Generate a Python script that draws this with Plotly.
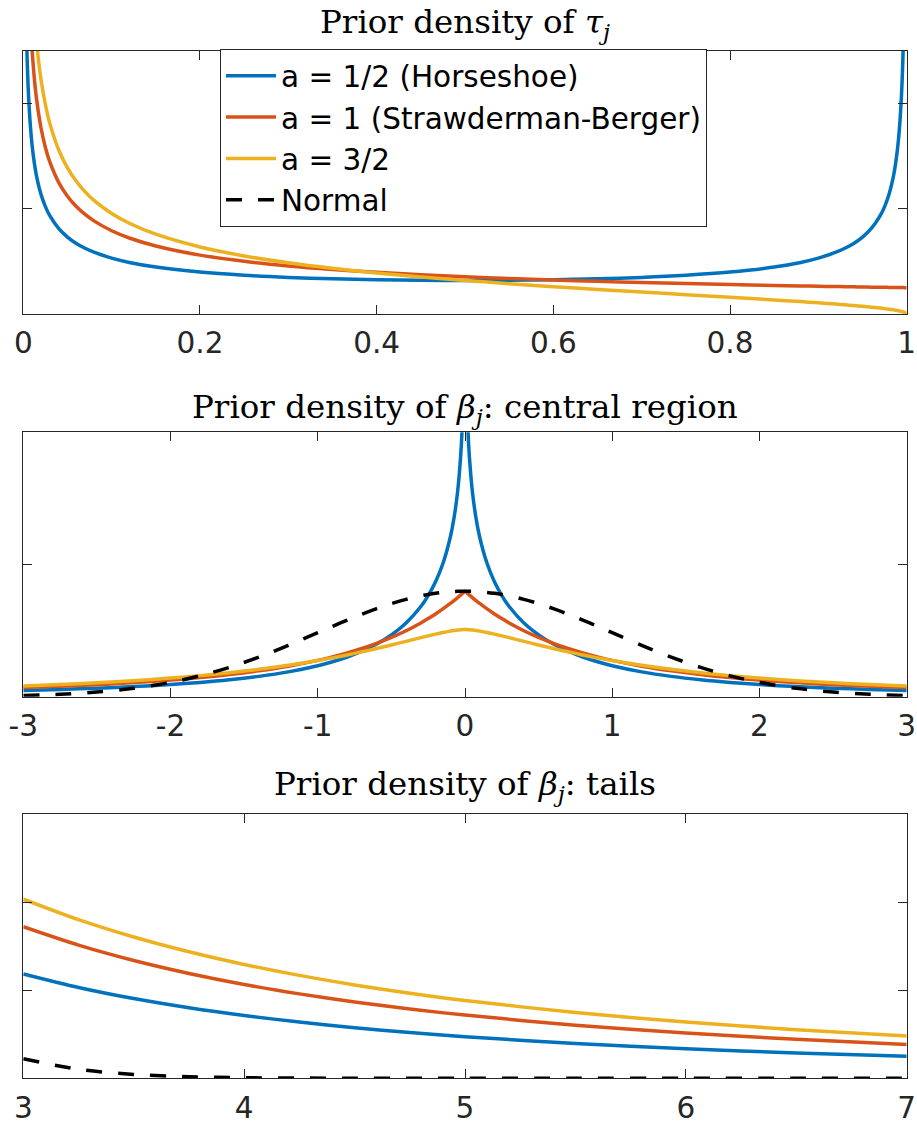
import plotly.graph_objects as go

# ---------------- data ----------------
# Panel 1: prior density of tau_j on [0, 1]
tau_x = [0.003, 0.004, 0.005, 0.006, 0.008, 0.01, 0.0125, 0.015, 0.02, 0.025, 0.03,
         0.04, 0.05, 0.06, 0.07, 0.08, 0.1, 0.12, 0.15, 0.2, 0.25, 0.3, 0.35, 0.4,
         0.45, 0.5, 0.55, 0.6, 0.65, 0.7, 0.75, 0.8, 0.85, 0.88, 0.9, 0.92, 0.93,
         0.94, 0.95, 0.96, 0.97, 0.975, 0.98, 0.985, 0.9875, 0.99, 0.992, 0.994,
         0.995, 0.996, 0.997, 1.0]
tau_horseshoe = [5.820, 5.043, 4.513, 4.122, 3.573, 3.199, 2.865, 2.619, 2.274, 2.039, 1.866,
                 1.624, 1.4605, 1.3403, 1.2476, 1.1733, 1.0610, 0.9795, 0.8915, 0.7958, 0.7351,
                 0.6946, 0.6674, 0.6497, 0.6398, 0.6366, 0.6398, 0.6497, 0.6674, 0.6946, 0.7351,
                 0.7958, 0.8915, 0.9795, 1.0610, 1.1733, 1.2476, 1.3403, 1.4605, 1.624, 1.866,
                 2.039, 2.274, 2.619, 2.865, 3.199, 3.573, 4.122, 4.513, 5.043, 5.820, None]
tau_sb = [9.129, 7.906, 7.071, 6.455, 5.590, 5.0, 4.472, 4.082, 3.536, 3.162, 2.887,
          2.5, 2.236, 2.041, 1.890, 1.768, 1.581, 1.443, 1.291, 1.118, 1.0, 0.9129,
          0.8452, 0.7906, 0.7454, 0.7071, 0.6742, 0.6455, 0.6202, 0.5976, 0.5774, 0.5590,
          0.5423, 0.5330, 0.5270, 0.5213, 0.5185, 0.5157, 0.5130, 0.5103, 0.5077, 0.5064,
          0.5051, 0.5038, 0.5031, 0.5025, 0.5020, 0.5015, 0.5013, 0.5010, 0.5008, 0.5]
tau_a32 = [11.606, 10.046, 8.981, 8.194, 7.089, 6.334, 5.658, 5.159, 4.456, 3.976, 3.620,
           3.119, 2.775, 2.520, 2.320, 2.159, 1.910, 1.724, 1.5155, 1.273, 1.1027, 0.9725,
           0.8676, 0.7797, 0.7038, 0.6366, 0.5758, 0.5198, 0.4672, 0.4168, 0.3676, 0.3183,
           0.2674, 0.2351, 0.2122, 0.1877, 0.1747, 0.1608, 0.1461, 0.1299, 0.1120, 0.1019,
           0.0909, 0.0786, 0.0716, 0.0640, 0.0572, 0.0495, 0.0451, 0.0403, 0.0349, 0.0]

# Panel 2: prior density of beta_j, central region (values for beta >= 0; curve is symmetric)
beta_pos = [0, 0.01, 0.02, 0.03, 0.05, 0.075, 0.1, 0.15, 0.2, 0.25, 0.3, 0.4, 0.5, 0.6,
            0.7, 0.8, 0.9, 1.0, 1.2, 1.4, 1.6, 1.8, 2.0, 2.25, 2.5, 2.75, 3.0]
beta_horseshoe = [None, 1.1843, 1.0085, 0.9057, 0.7767, 0.6748, 0.6031, 0.5036, 0.4346,
                  0.3825, 0.3411, 0.2788, 0.2336, 0.1991, 0.1720, 0.1501, 0.1321, 0.1172,
                  0.0939, 0.0768, 0.0638, 0.0538, 0.0459, 0.0382, 0.0322, 0.0275, 0.0237]
beta_sb = [0.39894, 0.39398, 0.38910, 0.38429, 0.37491, 0.36358, 0.35269, 0.33214, 0.31309,
           0.29543, 0.27904, 0.24963, 0.22413, 0.20193, 0.18255, 0.16554, 0.15058, 0.13736,
           0.11526, 0.09770, 0.08360, 0.07214, 0.06274, 0.05324, 0.04561, 0.03945, 0.03440]
beta_a32 = [0.25398, 0.25386, 0.25358, 0.25316, 0.25204, 0.25018, 0.24795, 0.24265, 0.23660,
            0.23007, 0.22327, 0.20937, 0.19558, 0.18229, 0.16971, 0.15791, 0.14694, 0.13678,
            0.11876, 0.10353, 0.09062, 0.07970, 0.07044, 0.06075, 0.05279, 0.04619, 0.04067]
beta_normal = [0.39894, 0.39892, 0.39886, 0.39876, 0.39844, 0.39782, 0.39695, 0.39448,
               0.39104, 0.38667, 0.38139, 0.36827, 0.35207, 0.33322, 0.31225, 0.28969,
               0.26609, 0.24197, 0.19419, 0.14973, 0.11092, 0.07895, 0.05399, 0.03174,
               0.01753, 0.00909, 0.00443]

# Panel 3: prior density of beta_j, tails
tail_x = [3, 3.25, 3.5, 3.75, 4, 4.25, 4.5, 4.75, 5, 5.5, 6, 6.5, 7]
tail_horseshoe = [0.02370, 0.02063, 0.01811, 0.01602, 0.01426, 0.01277, 0.01149, 0.01040,
                  0.00945, 0.00790, 0.00670, 0.00575, 0.00499]
tail_sb = [0.03440, 0.03022, 0.02673, 0.02380, 0.02130, 0.01917, 0.01733, 0.01573,
           0.01435, 0.01206, 0.01027, 0.00884, 0.00769]
tail_a32 = [0.04067, 0.03602, 0.03208, 0.02873, 0.02585, 0.02336, 0.02120, 0.01932,
            0.01767, 0.01492, 0.01276, 0.01102, 0.00961]
tail_normal = [0.00443, 0.00203, 0.00087, 0.00035, 0.00013, 0.00005, 0.00002, 0.000005,
               0.0000015, 0.0, 0.0, 0.0, 0.0]

names = ["a = 1/2 (Horseshoe)", "a = 1 (Strawderman-Berger)", "a = 3/2", "Normal"]
titles = ["Prior density of <i>τ</i><sub><i>j</i></sub>",
          "Prior density of <i>β</i><sub><i>j</i></sub>: central region",
          "Prior density of <i>β</i><sub><i>j</i></sub>: tails"]

# ---------------- styling ----------------
BLUE, RED, YELLOW, BLACK = "#0072BD", "#D95319", "#EDB120", "#000000"
AX = "#262626"
LW = 3.5
DASH = "16px,16px"
SANS = "DejaVu Sans, Arial, sans-serif"

# symmetric central region
beta_x = [-b for b in reversed(beta_pos[1:])] + beta_pos
def mirror(v):
    return list(reversed(v[1:])) + v

fig = go.Figure()

def add(x, y, color, name, axis, legend, dash=None, shape="spline"):
    fig.add_trace(go.Scatter(
        x=x, y=y, mode="lines", name=name, showlegend=legend,
        xaxis="x" + axis, yaxis="y" + axis, connectgaps=False,
        line=dict(color=color, width=LW, dash=dash, shape=shape, smoothing=0.8)))

# panel 1
add(tau_x, tau_horseshoe, BLUE, names[0], "", True)
add(tau_x, tau_sb, RED, names[1], "", True)
add(tau_x, tau_a32, YELLOW, names[2], "", True)
# panel 2
add(beta_x, mirror(beta_horseshoe), BLUE, names[0], "2", False)
add(beta_x, mirror(beta_sb), RED, names[1], "2", False)
add(beta_x, mirror(beta_a32), YELLOW, names[2], "2", False)
add(beta_x, mirror(beta_normal), BLACK, names[3], "2", True, dash=DASH)
# panel 3
add(tail_x, tail_horseshoe, BLUE, names[0], "3", False)
add(tail_x, tail_sb, RED, names[1], "3", False)
add(tail_x, tail_a32, YELLOW, names[2], "3", False)
add(tail_x, tail_normal, BLACK, names[3], "3", False, dash=DASH)

W, H = 917, 1126
xdom = [23.3 / W, 906.7 / W]
def ydom(top_px, bot_px):
    return [1 - bot_px / H, 1 - top_px / H]

tickfont = dict(family=SANS, size=29.5, color=AX)
common_x = dict(showline=True, linecolor=AX, linewidth=1, mirror="ticks", ticks="inside",
                ticklen=9, tickwidth=1, tickcolor=AX, showgrid=False, zeroline=False,
                tickfont=tickfont, ticklabelstandoff=3, domain=xdom, automargin=False)
common_y = dict(showline=True, linecolor=AX, linewidth=1, mirror="ticks", ticks="inside",
                ticklen=9, tickwidth=1, tickcolor=AX, showgrid=False, zeroline=False,
                showticklabels=False, automargin=False)

fig.update_layout(
    width=W, height=H, paper_bgcolor="white", plot_bgcolor="white",
    margin=dict(l=0, r=0, t=0, b=0, autoexpand=False),
    xaxis=dict(common_x, range=[0, 1], tickvals=[0, 0.2, 0.4, 0.6, 0.8, 1],
               ticktext=["0", "0.2", "0.4", "0.6", "0.8", "1"], anchor="y"),
    yaxis=dict(common_y, range=[0, 5], tickvals=[0, 2, 4], domain=ydom(50.7, 314), anchor="x"),
    xaxis2=dict(common_x, range=[-3, 3], tickvals=[-3, -2, -1, 0, 1, 2, 3],
                ticktext=["-3", "-2", "-1", "0", "1", "2", "3"], anchor="y2"),
    yaxis2=dict(common_y, range=[0, 1], tickvals=[0, 0.5, 1], domain=ydom(432.3, 696.7), anchor="x2"),
    xaxis3=dict(common_x, range=[3, 7], tickvals=[3, 4, 5, 6, 7], anchor="y3"),
    yaxis3=dict(common_y, range=[0, 0.06], tickvals=[0, 0.02, 0.04, 0.06],
                domain=ydom(814, 1078.3), anchor="x3"),
    legend=dict(x=220 / W, y=1 - 49 / H, xanchor="left", yanchor="top",
                bgcolor="white", bordercolor=AX, borderwidth=1,
                font=dict(family=SANS, size=29.5, color="#000000"),
                tracegroupgap=0, itemwidth=50),
    showlegend=True,
)

title_y = [24, 409, 786]
for t, ypx in zip(titles, title_y):
    fig.add_annotation(text=t, x=(xdom[0] + xdom[1]) / 2, y=1 - ypx / H,
                       xref="paper", yref="paper", xanchor="center", yanchor="middle",
                       showarrow=False,
                       font=dict(family="DejaVu Serif, serif", size=32.5, color="#000000"))

fig.write_html("out.html", config={"displayModeBar": False},
               post_script="document.body.style.margin='0px';")
